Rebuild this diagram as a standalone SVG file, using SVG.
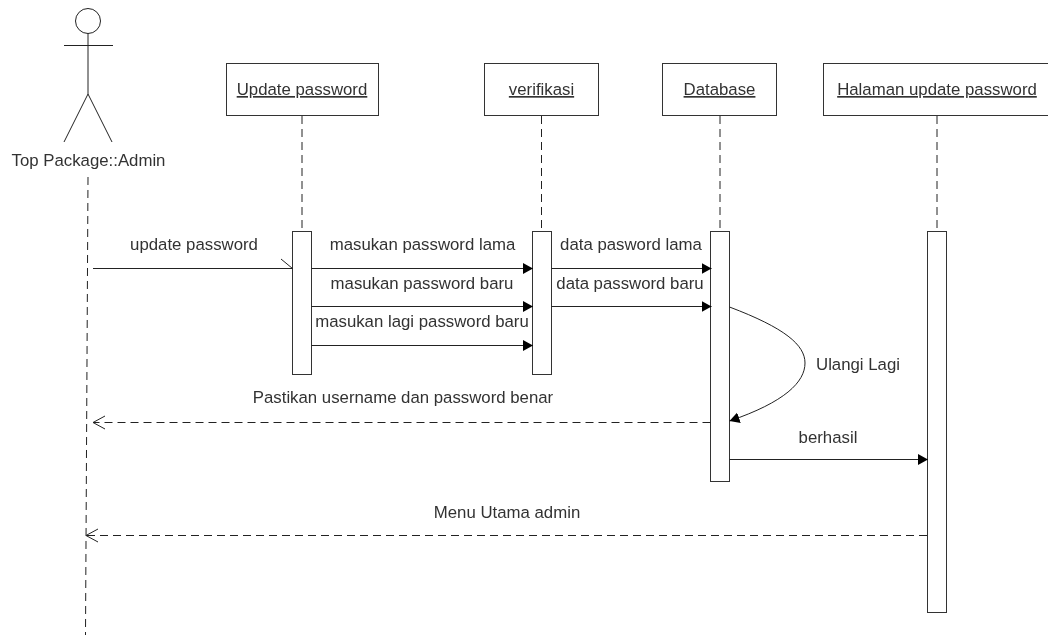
<svg xmlns="http://www.w3.org/2000/svg" width="1048" height="635" viewBox="0 0 1048 635">
<style>
text{font-family:"Liberation Sans",Arial,sans-serif;font-size:16.8px;fill:#333;text-anchor:middle;filter:url(#soft)}
.u{text-decoration:underline}
.b{fill:#fff;stroke:#333;stroke-width:1}
.l{stroke:#222;stroke-width:1;fill:none}
.d{stroke:#222;stroke-width:1;fill:none;stroke-dasharray:8 5}
</style>
<defs>
<filter id="soft" x="-5%" y="-20%" width="110%" height="140%"><feGaussianBlur stdDeviation="0.45"/></filter>
<marker id="solid" markerUnits="userSpaceOnUse" markerWidth="12" markerHeight="13" refX="10" refY="6.500" orient="auto"><path d="M0 1L10 6.500L0 12Z" fill="#000"/></marker>
<marker id="open" markerUnits="userSpaceOnUse" markerWidth="16" markerHeight="18" refX="13" refY="9" orient="auto"><path d="M1 2.500L13 9L1 15.500" fill="none" stroke="#222"/></marker>
</defs>
<g id="lifelines">
<path class="d" d="M88 177L85.500 635"/>
<path class="d" d="M302 116V231"/>
<path class="d" d="M541.500 116V231"/>
<path class="d" d="M720 116V231"/>
<path class="d" d="M937 116V231"/>
</g>
<g id="actor-admin">
<circle class="l" cx="88" cy="21" r="12.5"/>
<path class="l" d="M64 45.500H113M88 33.500V94M88 94L64 142M88 94L112 142"/>
<text x="88.500" y="166">Top Package::Admin</text>
</g>
<g id="update-password">
<rect class="b" x="226.500" y="63.500" width="152" height="52"/>
<text class="u" x="302" y="95">Update password</text>
<rect class="b" x="292.500" y="231.500" width="19" height="143"/>
</g>
<g id="verifikasi">
<rect class="b" x="484.500" y="63.500" width="114" height="52"/>
<text class="u" x="541.500" y="95">verifikasi</text>
<rect class="b" x="532.500" y="231.500" width="19" height="143"/>
</g>
<g id="database">
<rect class="b" x="662.500" y="63.500" width="114" height="52"/>
<text class="u" x="719.500" y="95">Database</text>
<rect class="b" x="710.500" y="231.500" width="19" height="250"/>
</g>
<g id="halaman-update-password">
<rect class="b" x="823.500" y="63.500" width="227" height="52"/>
<text class="u" x="937" y="95">Halaman update password</text>
<rect class="b" x="927.500" y="231.500" width="19" height="381"/>
</g>
<g id="connectors">
<path class="l" d="M93 268.500H292.500M281 259L292.500 268.500"/>
<path class="l" marker-end="url(#solid)" d="M311.500 268.500H533"/>
<path class="l" marker-end="url(#solid)" d="M311.500 306.500H533"/>
<path class="l" marker-end="url(#solid)" d="M311.500 345.500H533"/>
<path class="l" marker-end="url(#solid)" d="M551.500 268.500H711.500"/>
<path class="l" marker-end="url(#solid)" d="M551.500 306.500H711.500"/>
<path class="l" marker-end="url(#solid)" d="M729.500 307C785 328 805 345 805 363C805 382 785 402 729.500 421"/>
<path class="d" marker-end="url(#open)" d="M710.500 422.500H93"/>
<path class="l" marker-end="url(#solid)" d="M729.500 459.500H928"/>
<path class="d" marker-end="url(#open)" d="M927 535.500H86"/>
</g>
<g id="labels">
<text x="194" y="250">update password</text>
<text x="422.500" y="250">masukan password lama</text>
<text x="422" y="289">masukan password baru</text>
<text x="422" y="327">masukan lagi password baru</text>
<text x="631" y="250">data pasword lama</text>
<text x="630" y="289">data password baru</text>
<text x="858" y="370">Ulangi Lagi</text>
<text x="403" y="403">Pastikan username dan password benar</text>
<text x="828" y="442.500">berhasil</text>
<text x="507" y="518">Menu Utama admin</text>
</g>
</svg>
